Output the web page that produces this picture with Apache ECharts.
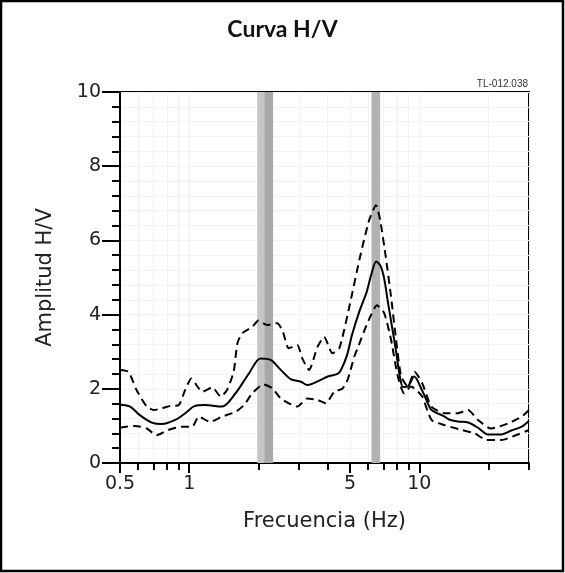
<!DOCTYPE html>
<html>
<head>
<meta charset="utf-8">
<script src="https://cdn.jsdelivr.net/npm/echarts@6/dist/echarts.min.js"></script>
<style>
  html, body { margin: 0; padding: 0; background: #fff; }
  #chart { width: 565px; height: 573px; }
</style>
</head>
<body>
<div id="chart"></div>
<script>
// ---- Data (frequency in Hz, amplitude H/V) ----
var meanFreq = [0.50, 0.553, 0.61, 0.687, 0.76, 0.869, 0.96, 1.06, 1.17, 1.39, 1.59, 1.82, 2.04, 2.26, 2.50, 2.76, 3.06, 3.26, 3.73, 4.0, 4.41, 4.56, 4.85, 5.1, 5.5, 5.9, 6.2, 6.5, 6.8, 7.05, 7.3, 7.6, 7.93, 8.2, 8.5, 8.9, 9.5, 10.3, 10.9, 11.3, 12.9, 13.4, 14.7, 16.3, 18.0, 19.9, 22.8, 25.0, 27.9, 30.0];
var meanAmp  = [1.57, 1.52, 1.29, 1.09, 1.05, 1.16, 1.34, 1.54, 1.56, 1.52, 1.88, 2.42, 2.82, 2.78, 2.51, 2.26, 2.19, 2.10, 2.24, 2.33, 2.40, 2.50, 2.90, 3.45, 4.10, 4.60, 5.10, 5.43, 5.30, 4.95, 4.35, 3.70, 3.00, 2.40, 2.05, 2.06, 2.33, 1.95, 1.61, 1.43, 1.25, 1.18, 1.12, 1.09, 0.95, 0.77, 0.77, 0.87, 0.98, 1.14];

var upperFreq = [0.50, 0.544, 0.59, 0.654, 0.70, 0.76, 0.826, 0.90, 0.96, 1.02, 1.06, 1.14, 1.26, 1.37, 1.46, 1.56, 1.62, 1.70, 1.88, 2.0, 2.18, 2.41, 2.54, 2.71, 2.95, 3.10, 3.32, 3.61, 3.86, 4.19, 4.50, 5.0, 5.53, 6.06, 6.48, 6.76, 7.15, 7.54, 7.93, 8.35, 8.93, 9.54, 10.3, 11.3, 12.9, 14.7, 16.3, 18.0, 20.5, 24.4, 27.9, 30.0];
var upperAmp  = [2.51, 2.46, 1.97, 1.52, 1.43, 1.47, 1.54, 1.56, 1.97, 2.28, 2.15, 1.92, 2.04, 1.79, 1.97, 2.46, 3.23, 3.50, 3.67, 3.84, 3.72, 3.77, 3.58, 3.09, 3.18, 2.82, 2.51, 3.13, 3.40, 2.96, 3.10, 4.30, 5.56, 6.55, 6.95, 6.55, 5.56, 4.48, 3.32, 2.33, 2.06, 2.46, 2.15, 1.52, 1.34, 1.34, 1.43, 1.16, 0.93, 1.07, 1.25, 1.43];

var lowerFreq = [0.50, 0.58, 0.654, 0.72, 0.81, 0.93, 1.03, 1.10, 1.23, 1.39, 1.59, 1.73, 1.88, 2.10, 2.30, 2.50, 2.95, 3.26, 3.61, 3.92, 4.27, 4.63, 4.88, 5.22, 5.40, 5.95, 6.55, 7.05, 7.54, 8.07, 8.6, 9.2, 10.3, 11.3, 12.9, 15.3, 17.4, 19.6, 22.8, 25.4, 30.0];
var lowerAmp  = [0.95, 1.00, 0.93, 0.75, 0.89, 0.98, 0.98, 1.25, 1.11, 1.25, 1.38, 1.56, 1.88, 2.12, 2.01, 1.74, 1.52, 1.74, 1.70, 1.61, 1.92, 2.00, 2.24, 2.87, 3.10, 3.77, 4.25, 4.03, 3.32, 2.33, 1.88, 2.06, 1.79, 1.16, 1.02, 0.89, 0.80, 0.62, 0.62, 0.71, 0.89];

// Peak-frequency bands (Hz)
var band1Light = [1.975, 2.12];
var band1Dark  = [2.12, 2.315];
var band2      = [6.2, 6.76];

// Axis ticks
var xMajorTicks = [0.5, 1, 5, 10];
var xMinorTicks = [0.6, 0.7, 0.8, 0.9, 2, 3, 4, 6, 7, 8, 9, 20, 30];
var xMin = 0.5, xMax = 30;
var yMin = 0, yMax = 10, yStep = 2;

var titleText = 'Curva H/V';
var stationText = 'TL-012.038';
var xName = 'Frecuencia (Hz)';
var yName = 'Amplitud H/V';

// ---- Build ----
function lg(v) { return Math.log10(v); }
function pairs(f, a) { return f.map(function (x, i) { return [lg(x), a[i]]; }); }

var chart = echarts.init(document.getElementById('chart'), null, { renderer: 'canvas' });
var font = 'DejaVu Sans';
var gridColor = '#f1f1f1';

var option = {
  backgroundColor: '#fff',
  animation: false,
  title: {
    text: titleText,
    left: 'center',
    top: 13,
    textStyle: { fontFamily: 'Lato', fontWeight: 'bold', fontSize: 23, color: '#111' }
  },
  graphic: [
    { type: 'rect', shape: { x: 1, y: 1, width: 562, height: 570 }, style: { fill: 'none', stroke: '#000', lineWidth: 2.5 }, silent: true },
    { type: 'text', right: 37, top: 79, style: { text: stationText, fontFamily: 'Liberation Sans', fontSize: 10, fill: '#333' } }
  ],
  grid: { left: 120, right: 36, top: 92, bottom: 110, show: true, borderColor: '#000', borderWidth: 2, backgroundColor: 'transparent' },
  xAxis: [
    {
      type: 'value', min: lg(xMin), max: lg(xMax), position: 'bottom',
      name: xName, nameLocation: 'middle', nameGap: 48,
      nameTextStyle: { fontFamily: font, fontSize: 21, color: '#222' },
      axisLine: { show: true, onZero: false, lineStyle: { color: '#000', width: 2 } },
      axisTick: { show: true, length: 10, lineStyle: { color: '#000', width: 2 }, customValues: xMajorTicks.map(lg) },
      axisLabel: { show: true, margin: 12, fontFamily: font, fontSize: 19, color: '#222', customValues: xMajorTicks.map(lg),
        formatter: function (v) { return String(+Math.pow(10, v).toPrecision(3)); } },
      splitLine: { show: true, lineStyle: { color: gridColor, width: 1 } }
    },
    {
      type: 'value', min: lg(xMin), max: lg(xMax), position: 'bottom',
      axisLine: { show: false, onZero: false },
      axisTick: { show: true, length: 7, lineStyle: { color: '#000', width: 2 }, customValues: xMinorTicks.map(lg) },
      axisLabel: { show: false, customValues: xMinorTicks.map(lg) },
      splitLine: { show: true, lineStyle: { color: gridColor, width: 1 } }
    }
  ],
  yAxis: {
    type: 'value', min: yMin, max: yMax, interval: yStep,
    name: yName, nameLocation: 'middle', nameGap: 64,
    nameTextStyle: { fontFamily: font, fontSize: 21, color: '#222' },
    axisLine: { show: true, onZero: false, lineStyle: { color: '#000', width: 2 } },
    axisTick: { show: true, length: 18, lineStyle: { color: '#000', width: 2 } },
    minorTick: { show: true, splitNumber: 5, length: 8, lineStyle: { color: '#000', width: 2 } },
    axisLabel: { margin: 19, fontFamily: font, fontSize: 19, color: '#222' },
    splitLine: { show: true, lineStyle: { color: gridColor, width: 1 } },
    minorSplitLine: { show: true, lineStyle: { color: gridColor, width: 1 } }
  },
  series: [
    {
      type: 'line', data: [], z: 1, silent: true,
      markArea: {
        silent: true,
        data: [
          [{ xAxis: lg(band1Light[0]), itemStyle: { color: '#c6c6c6' } }, { xAxis: lg(band1Light[1]) }],
          [{ xAxis: lg(band1Dark[0]), itemStyle: { color: '#a8a8a8' } }, { xAxis: lg(band1Dark[1]) }],
          [{ xAxis: lg(band2[0]), itemStyle: { color: '#b2b2b2' } }, { xAxis: lg(band2[1]) }]
        ]
      }
    },
    {
      type: 'line', data: pairs(upperFreq, upperAmp), showSymbol: false, smooth: 0.2, z: 3,
      lineStyle: { color: '#000', width: 2, type: [8, 5] }
    },
    {
      type: 'line', data: pairs(lowerFreq, lowerAmp), showSymbol: false, smooth: 0.2, z: 3,
      lineStyle: { color: '#000', width: 2, type: [8, 5] }
    },
    {
      type: 'line', data: pairs(meanFreq, meanAmp), showSymbol: false, smooth: 0.3, z: 4,
      lineStyle: { color: '#000', width: 2 }
    }
  ]
};
chart.setOption(option);
</script>
</body>
</html>
